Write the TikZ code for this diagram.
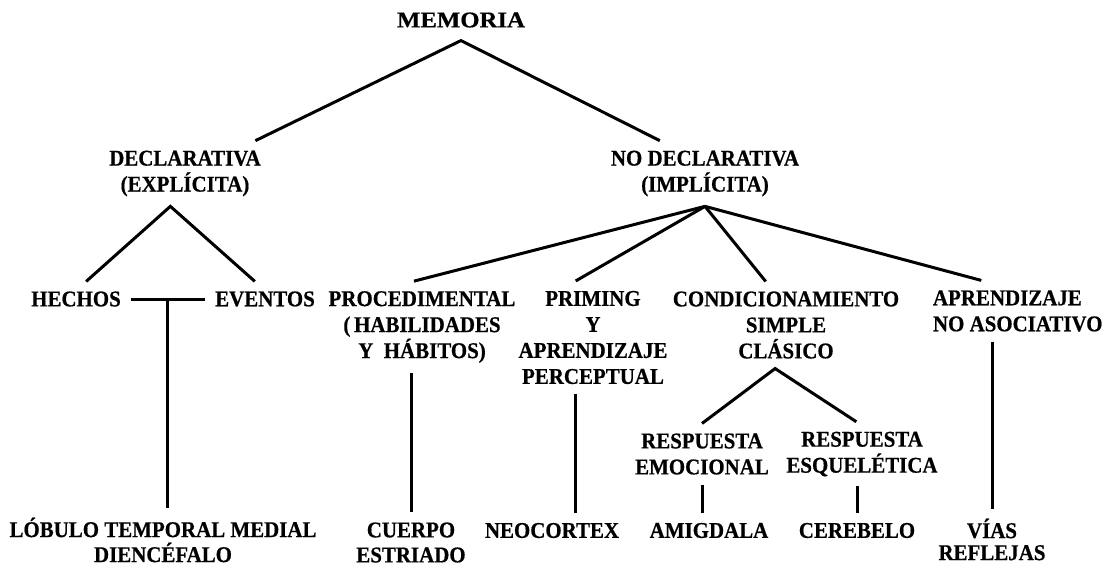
\documentclass[tikz,border=0pt]{standalone}
\usepackage{fontspec}
\setmainfont{Liberation Serif}[FakeStretch=0.93, FakeBold=0.6]
\newfontfamily\memfont{Liberation Serif}[FakeStretch=1.1, FakeBold=0.6]
\usetikzlibrary{calc}

\begin{document}
\begin{tikzpicture}[
        x=1pt, y=-1pt,
        term/.style={inner sep=4pt, outer sep=6pt, align=center, font=\bfseries\fontsize{22.5}{26}\selectfont},
        wide/.style={font=\bfseries\fontsize{22.5}{25}\selectfont},
        close/.style={font=\bfseries\fontsize{22.5}{22}\selectfont},
        link/.style={line width=3pt},
    ]
    \useasboundingbox (0,0) rectangle (1106,566);

    \node[term, outer sep=9pt, font=\memfont\bfseries\fontsize{22.5}{26}\selectfont] (mem) at (461,20) {MEMORIA};

    % first split
    \node[term] (decl) at (185,173.5) {DECLARATIVA\\(EXPLÍCITA)};
    \node[term] (nodecl) at (705,173.5) {NO DECLARATIVA\\(IMPLÍCITA)};

    % kinds of memory
    \node[term] (hechos) at (76,299) {HECHOS};
    \node[term] (eventos) at (265,299) {EVENTOS};
    \node[term] (proc) at (422,327) {PROCEDIMENTAL\\(\,HABILIDADES\\Y~~HÁBITOS)};
    \node[term] (prim) at (593,337.5) {PRIMING\\Y\\APRENDIZAJE\\PERCEPTUAL};
    \node[term] (cond) at (786,325) {CONDICIONAMIENTO\\SIMPLE\\CLÁSICO};
    \node[term, align=left, anchor=west] (aprend) at (923,311) {APRENDIZAJE\\NO ASOCIATIVO};
    \node[term] (resemo) at (702,454) {RESPUESTA\\EMOCIONAL};
    \node[term] (resesq) at (862,454) {RESPUESTA\\ESQUELÉTICA};

    % brain structures
    \node[term, wide] (lobulo) at (163,540) {LÓBULO TEMPORAL MEDIAL\\DIENCÉFALO};
    \node[term, wide] (cuerpo) at (411,542.5) {CUERPO\\ESTRIADO};
    \node[term] (neo) at (552,530.5) {NEOCORTEX};
    \node[term] (amig) at (709,530.5) {AMIGDALA};
    \node[term] (cereb) at (857,530.5) {CEREBELO};
    \node[term, close] (vias) at (992,539.5) {VÍAS\\REFLEJAS};

    \draw[link] (decl.25) -- (mem.south) -- (nodecl.144);
    \draw[link] (hechos.60) -- (decl.246) -- (eventos.120);
    \draw[link] (hechos.east) -- (eventos.west);
    \coordinate (hev) at ($(hechos.east)!0.5!(eventos.west)$);
    \draw[link] (hev) -- (hev |- lobulo.north);
    \foreach \nm/\ang in {proc/100, prim/107, cond/115, aprend/140}
        \draw[link] (nodecl.south) -- (\nm.\ang);
    \draw[link] (resemo.north) -- (cond.256) -- (resesq.100);

    % down to the structures
    \draw[link] (cuerpo.north |- proc.south) -- (cuerpo.north);
    \draw[link] (prim.253) -- (prim.253 |- neo.north);
    \draw[link] (resemo.south) -- (resemo.south |- amig.north);
    \draw[link] (cereb.north |- resesq.south) -- (cereb.north);
    \draw[link] (vias.north |- aprend.south) -- (vias.north);
\end{tikzpicture}
\end{document}
